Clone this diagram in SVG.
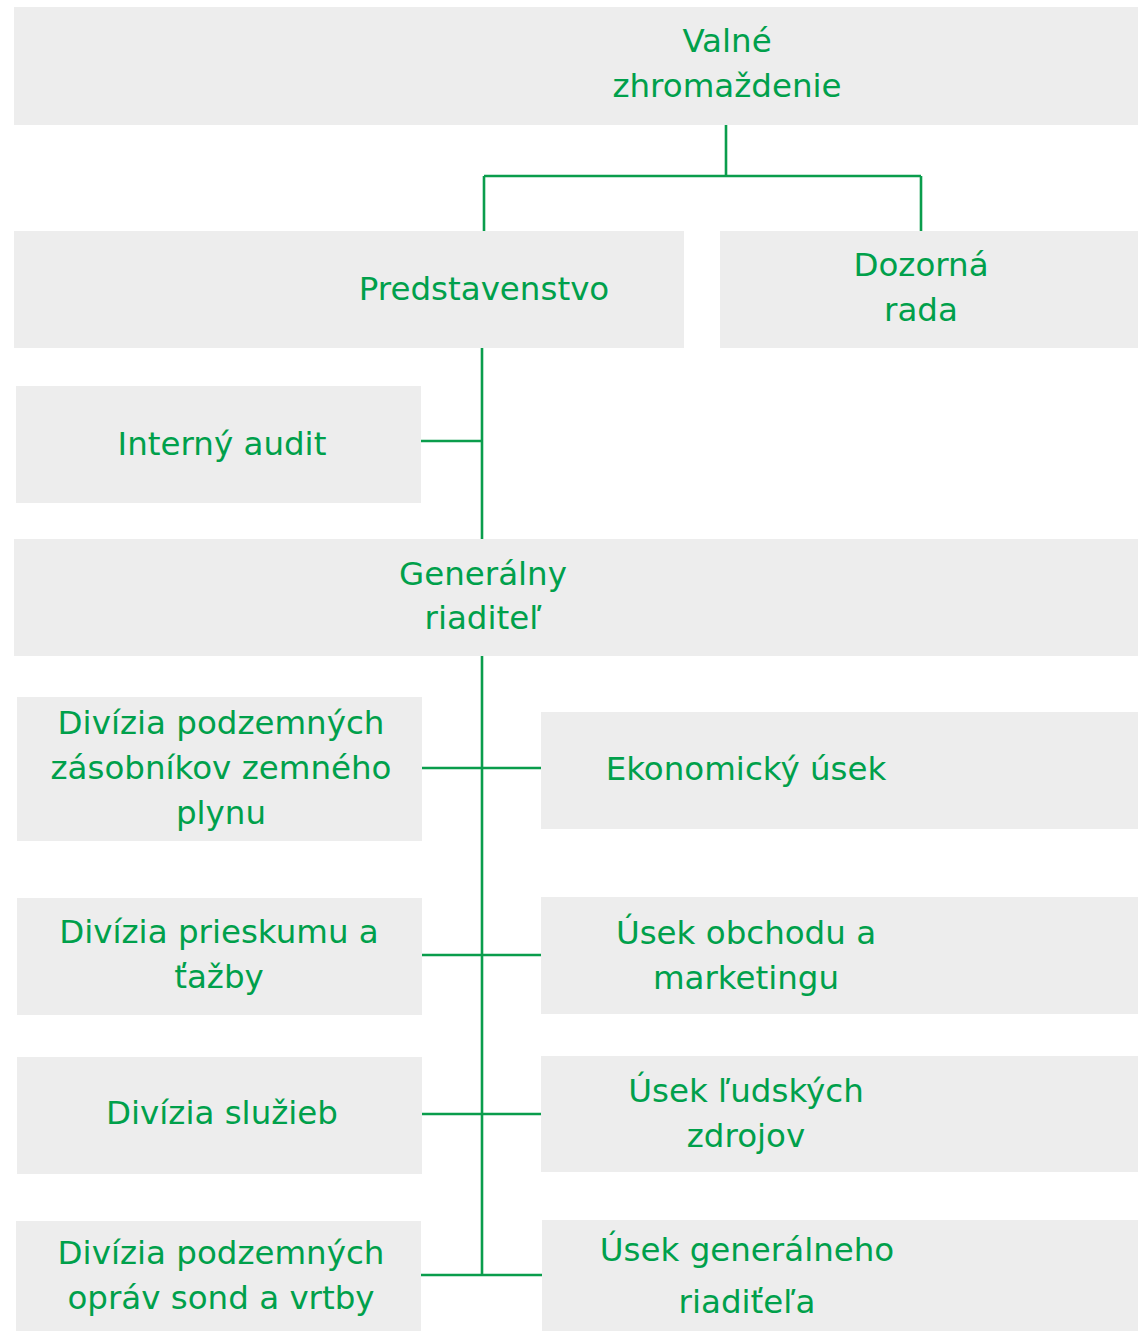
<svg xmlns="http://www.w3.org/2000/svg" width="1138" height="1331" viewBox="0 0 1138 1331">
<style>
.box{fill:#ededed}
.t{font-family:"DejaVu Sans","Liberation Sans",sans-serif;font-size:32.5px;fill:#00a04b;text-anchor:middle}
.c{stroke:#0a9d4c;stroke-width:2.6;fill:none}
</style>
<rect width="1138" height="1331" fill="#ffffff"/>
<g id="connectors">
<path class="c" d="M726 125V176M484 176H921M484 176V231M921 176V231"/>
<path class="c" d="M482 348V539M421 441H482"/>
<path class="c" d="M482 656V1275M422 768H541M422 955H541M422 1114H541M421 1275H542"/>
</g>
<g id="n-valne"><rect class="box" x="14" y="7" width="1124" height="118"/><text class="t" x="727" y="52">Valné</text><text class="t" x="727" y="97">zhromaždenie</text></g>
<g id="n-predstavenstvo"><rect class="box" x="14" y="231" width="670" height="117"/><text class="t" x="484" y="300">Predstavenstvo</text></g>
<g id="n-dozorna"><rect class="box" x="720" y="231" width="418" height="117"/><text class="t" x="921" y="276">Dozorná</text><text class="t" x="921" y="321">rada</text></g>
<g id="n-audit"><rect class="box" x="16" y="386" width="405" height="117"/><text class="t" x="222" y="455">Interný audit</text></g>
<g id="n-gr"><rect class="box" x="14" y="539" width="1124" height="117"/><text class="t" x="483" y="585">Generálny</text><text class="t" x="483" y="629">riaditeľ</text></g>
<g id="n-div-zasob"><rect class="box" x="17" y="697" width="405" height="144"/><text class="t" x="221" y="734">Divízia podzemných</text><text class="t" x="221" y="779">zásobníkov zemného</text><text class="t" x="221" y="824">plynu</text></g>
<g id="n-ekon"><rect class="box" x="541" y="712" width="597" height="117"/><text class="t" x="746" y="780">Ekonomický úsek</text></g>
<g id="n-div-prieskum"><rect class="box" x="17" y="898" width="405" height="117"/><text class="t" x="219" y="943">Divízia prieskumu a</text><text class="t" x="219" y="988">ťažby</text></g>
<g id="n-obchod"><rect class="box" x="541" y="897" width="597" height="117"/><text class="t" x="746" y="944">Úsek obchodu a</text><text class="t" x="746" y="989">marketingu</text></g>
<g id="n-div-sluzieb"><rect class="box" x="17" y="1057" width="405" height="117"/><text class="t" x="222" y="1124">Divízia služieb</text></g>
<g id="n-ludske"><rect class="box" x="541" y="1056" width="597" height="116"/><text class="t" x="746" y="1102">Úsek ľudských</text><text class="t" x="746" y="1147">zdrojov</text></g>
<g id="n-div-oprav"><rect class="box" x="16" y="1221" width="405" height="110"/><text class="t" x="221" y="1264">Divízia podzemných</text><text class="t" x="221" y="1309">opráv sond a vrtby</text></g>
<g id="n-usek-gr"><rect class="box" x="542" y="1220" width="596" height="111"/><text class="t" x="747" y="1261">Úsek generálneho</text><text class="t" x="747" y="1313">riadiťeľa</text></g>
</svg>
